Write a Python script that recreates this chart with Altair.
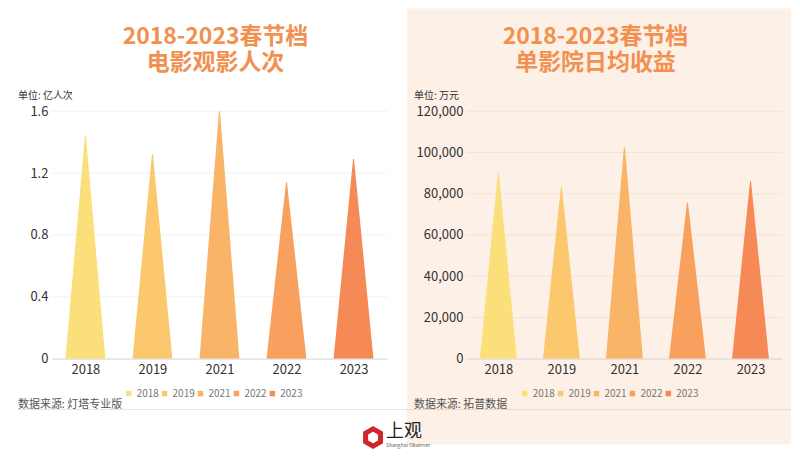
import altair as alt
import pandas as pd

# ---------------- data ----------------
years = [2018, 2019, 2021, 2022, 2023]
audience = [1.44, 1.32, 1.60, 1.14, 1.29]            # 亿人次
revenue = [90000, 83000, 102500, 75500, 86000]       # 万元
colors = ["#fbdf7b", "#fbc86d", "#f9b467", "#f8a15f", "#f68a56"]
left_ticks = [0, 0.4, 0.8, 1.2, 1.6]
right_ticks = [0, 20000, 40000, 60000, 80000, 100000, 120000]
left_title = ["2018-2023春节档", "电影观影人次"]
right_title = ["2018-2023春节档", "单影院日均收益"]
left_unit = "单位: 亿人次"
right_unit = "单位: 万元"
left_source = "数据来源: 灯塔专业版"
right_source = "数据来源: 拓普数据"
logo_text = "上观"
logo_sub = "Shanghai Observer"

FONT = "Noto Sans CJK SC"
TITLE_COLOR = "#f1904f"
PEACH = "#fdf0e6"
HEX = "M0,-1 L0.866,-0.5 L0.866,0.5 L0,1 L-0.866,0.5 L-0.866,-0.5 Z"


def one_row():
    return pd.DataFrame({"k": [0]})


def text_layer(txt, x, y, size, color, weight="normal", align="left"):
    return alt.Chart(pd.DataFrame({"t": [txt]})).mark_text(
        align=align, baseline="middle", font=FONT, fontSize=size,
        fontWeight=weight, color=color
    ).encode(x=alt.value(x), y=alt.value(y), text="t:N")


def panel(values, ticks, ymax, fmt, tri_w, width, height, title, unit,
          source, title_x, unit_x, legend_x, rule_x1, rule_x2, grid_color,
          sep_color, bg=None, logo=False):
    layers = []
    if bg:
        layers.append(
            alt.Chart(one_row()).mark_rect(color=bg).encode(
                x=alt.value(-60), x2=alt.value(width + 9),
                y=alt.value(-103), y2=alt.value(height + 86))
        )
    yscale = alt.Scale(domain=[0, ymax], nice=False, zero=True)
    yaxis = alt.Axis(values=ticks, format=fmt, ticks=False, domain=False,
                     grid=False, labelPadding=4, labelFontSize=13,
                     labelFont=FONT, labelColor="#333333", zindex=1)
    grid = alt.Chart(pd.DataFrame({"t": ticks})).mark_rule(
        color=grid_color, strokeWidth=1
    ).encode(y=alt.Y("t:Q", scale=yscale, title=None, axis=yaxis),
             x=alt.value(0), x2=alt.value(width))
    layers.append(grid)

    df = pd.DataFrame({"year": years, "value": values})
    xenc = alt.X("year:O", sort=years, title=None,
                 axis=alt.Axis(labelAngle=0, ticks=False, domainColor="#dcdcdc",
                               labelPadding=5, labelFontSize=13, labelFont=FONT,
                               labelColor="#333333", grid=False, zindex=1))
    tri = alt.Chart(df).transform_calculate(
        base0="0"
    ).transform_fold(
        ["base0", "value"], as_=["end", "v"]
    ).transform_calculate(
        w=f"datum.end == 'base0' ? {tri_w} : 0"
    ).mark_trail(clip=True).encode(
        x=xenc,
        y=alt.Y("v:Q", scale=yscale, title=None, axis=yaxis),
        size=alt.Size("w:Q", scale=None, legend=None),
        order=alt.Order("v:Q"),
        fill=alt.Fill("year:O", scale=alt.Scale(domain=years, range=colors),
                      legend=None),
    )
    layers.append(tri)

    # legend carrier: square marks clipped out of view, only their legend shows
    leg = alt.Chart(df).mark_square(clip=True, size=30, opacity=1).encode(
        x=xenc,
        y=alt.value(-1000),
        color=alt.Color("year:O", scale=alt.Scale(domain=years, range=colors),
                        legend=alt.Legend(orient="none", legendX=legend_x,
                                          legendY=278, direction="horizontal",
                                          title=None, symbolType="square",
                                          symbolSize=30, symbolStrokeWidth=0,
                                          labelFontSize=10, labelFont=FONT,
                                          labelColor="#777777", columnPadding=0,
                                          labelOffset=3, padding=0)),
    )
    layers.append(leg)

    layers.append(text_layer(title[0], title_x, -74, 23, TITLE_COLOR, "bold", "center"))
    layers.append(text_layer(title[1], title_x, -48, 23, TITLE_COLOR, "bold", "center"))
    layers.append(text_layer(unit, unit_x, -15, 10, "#333333"))
    layers.append(text_layer(source, unit_x, 294, 11, "#555555"))
    layers.append(
        alt.Chart(one_row()).mark_rule(color=sep_color, strokeWidth=1).encode(
            x=alt.value(rule_x1), x2=alt.value(rule_x2),
            y=alt.value(299), y2=alt.value(299))
    )
    if logo:
        layers.append(
            alt.Chart(one_row()).mark_point(
                shape=HEX, filled=False, strokeWidth=5, color="#d1262d",
                size=300, opacity=1
            ).encode(x=alt.value(-94), y=alt.value(327))
        )
        layers.append(text_layer(logo_text, -81, 322, 18, "#222222"))
        layers.append(text_layer(logo_sub, -81, 335, 5, "#555555"))

    return alt.layer(*layers).properties(width=width, height=height)


left = panel(audience, left_ticks, 1.6, ".1~f", 40, 336, 248, left_title,
             left_unit, left_source, 164, -34, 72, -34, 354, "#f1f1f1",
             "#e6e6e6")
right = panel(revenue, right_ticks, 120000, ",.0f", 37, 316, 248, right_title,
              right_unit, right_source, 129, -53, 53, -62, 325, "#f3e3d8",
              "#ead9cc", bg=PEACH, logo=True)

chart = alt.hconcat(left, right, spacing=80, bounds="flush").resolve_legend(
    color="independent"
).properties(
    background="white",
    padding={"left": 9, "top": 0, "right": 0, "bottom": 0},
).configure_view(stroke=None)

chart.save("out.html", embed_options={"renderer": "svg", "actions": False})
